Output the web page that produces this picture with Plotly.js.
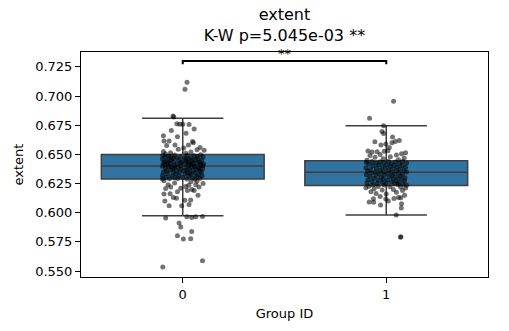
<!DOCTYPE html>
<html>
<head>
<meta charset="utf-8">
<script src="https://cdn.plot.ly/plotly-3.0.1.min.js"></script>
<style>
  html, body { margin: 0; padding: 0; background: #fff; }
  #chart { width: 509px; height: 331px; }
</style>
</head>
<body>
<div id="chart"></div>
<script>
// groups on the x axis
var groups = [0, 1];
var groupLabels = ['0', '1'];

// box statistics
var q1 = [0.6289, 0.6234];
var medians = [0.6400, 0.6348];
var q3 = [0.6500, 0.6445];
var lowerFence = [0.5974, 0.5980];
var upperFence = [0.6811, 0.6745];

// strip points, group 0 (value, jitter offset)
var g0y = [
  0.7119, 0.7059, 0.6830, 0.6820, 0.6762, 0.6758, 0.6758, 0.6756, 0.6717, 0.6705,
  0.6682, 0.6659, 0.6652, 0.6616, 0.6616, 0.6610, 0.6600, 0.6576, 0.6580, 0.6580,
  0.6555, 0.6545, 0.6560, 0.6535, 0.6525, 0.6540, 0.6520, 0.6515, 0.6510, 0.6505,
  0.6290, 0.6275, 0.6240, 0.6220, 0.6208, 0.6210, 0.6225, 0.6240, 0.6220, 0.6190,
  0.6160, 0.6163, 0.6180, 0.6190, 0.6131, 0.6125, 0.6106, 0.6110, 0.6100, 0.6060,
  0.6060, 0.6070, 0.6265, 0.6255, 0.6250, 0.6235, 0.6270, 0.6200, 0.6150,
  0.5955, 0.5965, 0.5960, 0.5965, 0.5968, 0.5912, 0.5878, 0.5840, 0.5803, 0.5775,
  0.5777, 0.5535, 0.5589,
  0.6490, 0.6485, 0.6495, 0.6480, 0.6492, 0.6488, 0.6498,
  0.6475, 0.6470, 0.6468, 0.6472, 0.6465, 0.6478,
  0.6460, 0.6455, 0.6450, 0.6458, 0.6452, 0.6448,
  0.6440, 0.6435, 0.6438, 0.6442, 0.6430, 0.6436,
  0.6425, 0.6420, 0.6418, 0.6422, 0.6415, 0.6428, 0.6420,
  0.6410, 0.6405, 0.6402, 0.6408, 0.6400, 0.6404,
  0.6395, 0.6390, 0.6392, 0.6388, 0.6385, 0.6398,
  0.6380, 0.6375, 0.6372, 0.6378, 0.6370, 0.6376,
  0.6365, 0.6360, 0.6362, 0.6358, 0.6355,
  0.6350, 0.6345, 0.6348, 0.6342, 0.6340, 0.6346,
  0.6335, 0.6330, 0.6332, 0.6328, 0.6325,
  0.6320, 0.6315, 0.6318, 0.6312, 0.6310, 0.6316,
  0.6305, 0.6300, 0.6302, 0.6298, 0.6295,
  0.6292, 0.6294, 0.6290, 0.6288,
  0.6445, 0.6462, 0.6432, 0.6412, 0.6395, 0.6385, 0.6428, 0.6468, 0.6482, 0.6402,
  0.6372, 0.6358, 0.6415, 0.6450, 0.6438, 0.6392, 0.6340, 0.6365, 0.6420, 0.6478
];
var g0x = [
  0.021, 0.011, -0.048, -0.044, -0.029, -0.015, 0.000, 0.031, 0.056, -0.056,
  0.016, -0.095, -0.026, -0.092, -0.067, 0.048, 0.052, -0.079, -0.038, 0.028,
  0.005, -0.022, 0.085, 0.105, -0.095, 0.070, 0.040, -0.060, 0.015, -0.085,
  -0.100, -0.092, -0.072, -0.059, -0.084, -0.010, 0.015, 0.064, 0.080, 0.056,
  -0.092, -0.062, -0.026, 0.023, -0.046, -0.031, 0.010, 0.039, -0.088, -0.067,
  -0.005, 0.031, 0.040, -0.040, 0.100, 0.030, 0.070, 0.045, 0.075,
  -0.084, 0.020, 0.044, 0.064, 0.097, -0.018, -0.010, 0.044, -0.026, 0.003,
  0.039, -0.098, 0.097,
  -0.098, -0.070, -0.040, -0.012, 0.022, 0.055, 0.088,
  -0.085, -0.030, 0.008, 0.040, 0.075, 0.100,
  -0.100, -0.055, -0.020, 0.030, 0.062, 0.092,
  -0.078, -0.045, -0.005, 0.018, 0.050, 0.082,
  -0.095, -0.062, -0.028, 0.010, 0.045, 0.070, 0.102,
  -0.088, -0.040, -0.010, 0.028, 0.058, 0.090,
  -0.070, -0.022, 0.015, 0.042, 0.078, -0.100,
  -0.085, -0.050, -0.008, 0.032, 0.065, 0.098,
  -0.060, -0.030, 0.005, 0.050, 0.085,
  -0.095, -0.045, -0.015, 0.022, 0.060, 0.092,
  -0.075, -0.035, 0.010, 0.040, 0.075,
  -0.100, -0.055, -0.018, 0.030, 0.068, 0.095,
  -0.082, -0.040, 0.000, 0.048, 0.085,
  -0.065, -0.025, 0.020, 0.060,
  -0.068, 0.015, 0.028, -0.072, 0.060, -0.040, -0.010, -0.048, 0.070, 0.100,
  0.080, -0.080, 0.085, 0.048, -0.090, -0.055, 0.035, 0.020, 0.035, -0.060
];

// strip points, group 1 (value, jitter offset)
var g1y = [
  0.6956, 0.6811, 0.6745, 0.6696, 0.6680, 0.6650, 0.6610, 0.6620, 0.6600, 0.6608,
  0.6580, 0.6590, 0.6560, 0.6530, 0.6520, 0.6522, 0.6528, 0.6532, 0.6515, 0.6505,
  0.6500, 0.6495, 0.6490, 0.6480, 0.6475, 0.6470, 0.6462, 0.6455, 0.6450,
  0.6440, 0.6438, 0.6442, 0.6435, 0.6440,
  0.6430, 0.6425, 0.6428, 0.6422, 0.6420, 0.6426,
  0.6415, 0.6410, 0.6412, 0.6408, 0.6405,
  0.6400, 0.6395, 0.6398, 0.6392, 0.6390,
  0.6385, 0.6380, 0.6382, 0.6378, 0.6375,
  0.6370, 0.6365, 0.6368, 0.6362, 0.6360,
  0.6355, 0.6350, 0.6352, 0.6348, 0.6345, 0.6350,
  0.6340, 0.6335, 0.6338, 0.6332, 0.6330,
  0.6325, 0.6320, 0.6322, 0.6318, 0.6315,
  0.6310, 0.6305, 0.6308, 0.6302, 0.6300,
  0.6295, 0.6290, 0.6292, 0.6288,
  0.6282, 0.6278, 0.6280, 0.6275, 0.6272,
  0.6268, 0.6262, 0.6265, 0.6260,
  0.6255, 0.6250, 0.6252, 0.6248, 0.6245,
  0.6240, 0.6238, 0.6242, 0.6235,
  0.6228, 0.6225, 0.6222, 0.6220, 0.6215, 0.6212,
  0.6205, 0.6200, 0.6195, 0.6190, 0.6180, 0.6175,
  0.6165, 0.6160, 0.6150, 0.6140, 0.6130,
  0.6120, 0.6118, 0.6122, 0.6128,
  0.6092, 0.6090, 0.6066, 0.6077, 0.6040, 0.6100,
  0.5980, 0.5795, 0.5790
];
var g1x = [
  0.036, -0.082, -0.013, -0.021, -0.013, 0.031, 0.044, 0.064, 0.028, -0.056,
  -0.026, -0.002, 0.015, -0.090, -0.070, -0.045, -0.010, 0.008, 0.095, 0.075,
  -0.030, 0.050, -0.080, 0.020, -0.055, 0.088, -0.015, 0.060, -0.095,
  -0.070, -0.030, 0.010, 0.045, 0.080,
  -0.098, -0.050, -0.012, 0.025, 0.065, 0.100,
  -0.085, -0.038, 0.002, 0.040, 0.078,
  -0.065, -0.020, 0.020, 0.055, 0.095,
  -0.100, -0.048, -0.005, 0.032, 0.070,
  -0.078, -0.030, 0.012, 0.050, 0.088,
  -0.092, -0.055, -0.015, 0.025, 0.062, 0.100,
  -0.072, -0.035, 0.005, 0.042, 0.080,
  -0.098, -0.050, -0.010, 0.030, 0.068,
  -0.080, -0.025, 0.015, 0.055, 0.092,
  -0.060, -0.015, 0.035, 0.075,
  -0.090, -0.040, 0.005, 0.048, 0.090,
  -0.070, -0.020, 0.025, 0.062,
  -0.095, -0.045, 0.000, 0.040, 0.082,
  -0.065, -0.010, 0.058, 0.100,
  -0.085, -0.040, 0.018, 0.070, -0.100, 0.095,
  -0.060, 0.035, -0.020, 0.080, -0.075, 0.050,
  -0.050, 0.000, 0.090, -0.030, 0.060,
  -0.063, -0.002, 0.038, 0.072,
  -0.084, -0.062, -0.028, 0.075, 0.074, 0.010,
  0.049, 0.072, 0.070
];

// significance bracket between the two groups
var sigPair = [0, 1];
var sigY = 0.7301;
var sigDrop = 0.0028;
var sigText = '**';

var titleLines = ['extent', 'K-W p=5.045e-03 **'];
var yTicks = [0.550, 0.575, 0.600, 0.625, 0.650, 0.675, 0.700, 0.725];

var FONT = 'DejaVu Sans, sans-serif';

var boxTrace = {
    type: 'box',
    x: groups,
    q1: q1,
    median: medians,
    q3: q3,
    lowerfence: lowerFence,
    upperfence: upperFence,
    boxpoints: false,
    width: 0.8,
    whiskerwidth: 0.5,
    fillcolor: '#3274a1',
    line: { color: '#3f3f3f', width: 1.5 },
    hoverinfo: 'skip',
    showlegend: false
};

function strip(g, ys, xs) {
    return {
        type: 'scatter',
        mode: 'markers',
        x: xs.map(function (d) { return g + d; }),
        y: ys,
        marker: { size: 5, color: 'rgba(0,0,0,0.55)', line: { width: 0 } },
        hoverinfo: 'skip',
        showlegend: false
    };
}

var bracket = {
    type: 'scatter',
    mode: 'lines',
    x: [sigPair[0], sigPair[0], sigPair[1], sigPair[1]],
    y: [sigY - sigDrop, sigY, sigY, sigY - sigDrop],
    line: { color: 'black', width: 2 },
    cliponaxis: false,
    hoverinfo: 'skip',
    showlegend: false
};

var layout = {
    width: 509,
    height: 331,
    margin: { l: 81, r: 21, t: 52, b: 54 },
    paper_bgcolor: 'white',
    plot_bgcolor: 'white',
    font: { family: FONT, size: 13, color: 'black' },
    title: {
        text: titleLines.join('<br>'),
        font: { family: FONT, size: 16, color: 'black' },
        x: 0.5, xref: 'paper', xanchor: 'center',
        y: 0.94, yref: 'container', yanchor: 'top'
    },
    xaxis: {
        range: [-0.5, 1.5],
        tickvals: groups,
        ticktext: groupLabels,
        ticks: 'outside', ticklen: 5, tickcolor: 'black',
        showgrid: false, zeroline: false,
        showline: true, linecolor: 'black', linewidth: 1, mirror: true,
        tickfont: { family: FONT, size: 13 },
        title: { text: 'Group ID', font: { family: FONT, size: 13 }, standoff: 8 }
    },
    yaxis: {
        range: [0.5449, 0.7378],
        tickvals: yTicks,
        tickformat: '.3f',
        ticks: 'outside', ticklen: 5, tickcolor: 'black',
        showgrid: false, zeroline: false,
        showline: true, linecolor: 'black', linewidth: 1, mirror: true,
        tickfont: { family: FONT, size: 13 },
        title: { text: 'extent', font: { family: FONT, size: 13 }, standoff: 8 }
    },
    annotations: [{
        x: (sigPair[0] + sigPair[1]) / 2,
        y: sigY,
        xref: 'x', yref: 'y',
        text: sigText,
        showarrow: false,
        yanchor: 'bottom',
        yshift: -2,
        font: { family: FONT, size: 13, color: 'black' }
    }]
};

Plotly.newPlot('chart',
    [boxTrace, strip(0, g0y, g0x), strip(1, g1y, g1x), bracket],
    layout, { displayModeBar: false, staticPlot: true });
</script>
</body>
</html>
